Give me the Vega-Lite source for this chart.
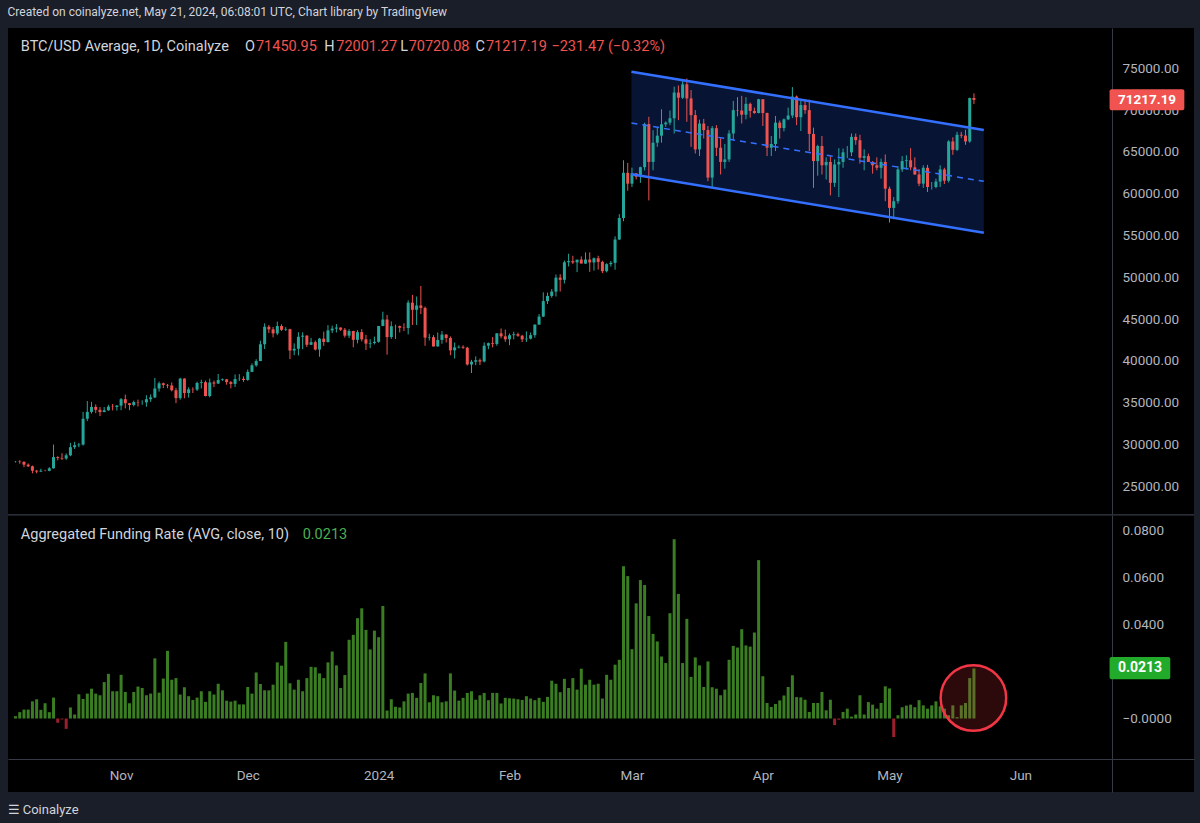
{
"$schema": "https://vega.github.io/schema/vega-lite/v6.json",
"background": "#1a1e28",
"padding": {"left": 7, "right": 7, "top": 6, "bottom": 9},
"spacing": 0,
"config": {"view": {"stroke": null}, "font": "Roboto"},
"title": {"text": "Created on coinalyze.net, May 21, 2024, 06:08:01 UTC, Chart library by TradingView", "anchor": "start", "fontSize": 12, "fontWeight": "normal", "color": "#d1d4dc", "offset": 9},
"datasets": {
"chan": [
{"d": "2024-02-29T21:00:00Z", "top": 74593, "bot": 62321, "mid": 68457},
{"d": "2024-05-23T08:00:00Z", "top": 67620, "bot": 55335, "mid": 61478}
],
"btc": [
{"d":"2023-10-07","o":27935,"h":28010,"l":27840,"c":27960,"f":0.0010},
{"d":"2023-10-08","o":27960,"h":28120,"l":27700,"c":27920,"f":0.0027},
{"d":"2023-10-09","o":27920,"h":27990,"l":27290,"c":27590,"f":0.0038},
{"d":"2023-10-10","o":27590,"h":27730,"l":27300,"c":27390,"f":0.0038},
{"d":"2023-10-11","o":27390,"h":27480,"l":26550,"c":26870,"f":0.0073},
{"d":"2023-10-12","o":26870,"h":26950,"l":26560,"c":26760,"f":0.0082},
{"d":"2023-10-13","o":26760,"h":27100,"l":26700,"c":26860,"f":0.0037},
{"d":"2023-10-14","o":26860,"h":26980,"l":26800,"c":26850,"f":0.0065},
{"d":"2023-10-15","o":26850,"h":27290,"l":26800,"c":27150,"f":0.0027},
{"d":"2023-10-16","o":27150,"h":30000,"l":27120,"c":28500,"f":0.0089},
{"d":"2023-10-17","o":28500,"h":28600,"l":28100,"c":28400,"f":-0.0018},
{"d":"2023-10-18","o":28400,"h":28960,"l":28150,"c":28320,"f":-0.0004},
{"d":"2023-10-19","o":28320,"h":28930,"l":28170,"c":28710,"f":-0.0044},
{"d":"2023-10-20","o":28710,"h":30200,"l":28600,"c":29680,"f":0.0047},
{"d":"2023-10-21","o":29680,"h":30320,"l":29460,"c":29910,"f":0.0017},
{"d":"2023-10-22","o":29910,"h":30200,"l":29670,"c":29990,"f":0.0103},
{"d":"2023-10-23","o":29990,"h":33900,"l":29880,"c":33080,"f":0.0083},
{"d":"2023-10-24","o":33080,"h":35200,"l":32800,"c":33900,"f":0.0106},
{"d":"2023-10-25","o":33900,"h":35100,"l":33700,"c":34500,"f":0.0127},
{"d":"2023-10-26","o":34500,"h":34800,"l":33750,"c":34150,"f":0.0106},
{"d":"2023-10-27","o":34150,"h":34480,"l":33400,"c":33890,"f":0.0099},
{"d":"2023-10-28","o":33890,"h":34480,"l":33860,"c":34090,"f":0.0155},
{"d":"2023-10-29","o":34090,"h":34750,"l":34040,"c":34530,"f":0.0190},
{"d":"2023-10-30","o":34530,"h":34850,"l":34080,"c":34490,"f":0.0116},
{"d":"2023-10-31","o":34490,"h":34720,"l":34060,"c":34650,"f":0.0116},
{"d":"2023-11-01","o":34650,"h":35560,"l":34100,"c":35420,"f":0.0186},
{"d":"2023-11-02","o":35420,"h":35970,"l":34320,"c":34940,"f":0.0113},
{"d":"2023-11-03","o":34940,"h":34950,"l":34100,"c":34730,"f":0.0065},
{"d":"2023-11-04","o":34730,"h":35250,"l":34560,"c":35080,"f":0.0113},
{"d":"2023-11-05","o":35080,"h":35370,"l":34550,"c":35040,"f":0.0136},
{"d":"2023-11-06","o":35040,"h":35280,"l":34750,"c":35040,"f":0.0130},
{"d":"2023-11-07","o":35040,"h":35890,"l":34520,"c":35420,"f":0.0099},
{"d":"2023-11-08","o":35420,"h":35990,"l":35100,"c":35630,"f":0.0106},
{"d":"2023-11-09","o":35630,"h":37950,"l":35550,"c":36700,"f":0.0256},
{"d":"2023-11-10","o":36700,"h":37530,"l":36330,"c":37320,"f":0.0110},
{"d":"2023-11-11","o":37320,"h":37400,"l":36750,"c":37130,"f":0.0170},
{"d":"2023-11-12","o":37130,"h":37240,"l":36740,"c":37060,"f":0.0288},
{"d":"2023-11-13","o":37060,"h":37430,"l":36350,"c":36490,"f":0.0165},
{"d":"2023-11-14","o":36490,"h":36770,"l":34950,"c":35550,"f":0.0172},
{"d":"2023-11-15","o":35550,"h":37980,"l":35360,"c":37880,"f":0.0102},
{"d":"2023-11-16","o":37880,"h":37930,"l":35530,"c":36160,"f":0.0133},
{"d":"2023-11-17","o":36160,"h":36850,"l":35600,"c":36600,"f":0.0095},
{"d":"2023-11-18","o":36600,"h":36830,"l":36160,"c":36570,"f":0.0079},
{"d":"2023-11-19","o":36570,"h":37520,"l":36400,"c":37360,"f":0.0089},
{"d":"2023-11-20","o":37360,"h":37750,"l":36700,"c":37450,"f":0.0116},
{"d":"2023-11-21","o":37450,"h":37650,"l":35750,"c":35800,"f":0.0071},
{"d":"2023-11-22","o":35800,"h":37880,"l":35650,"c":37420,"f":0.0116},
{"d":"2023-11-23","o":37420,"h":37650,"l":36870,"c":37290,"f":0.0102},
{"d":"2023-11-24","o":37290,"h":38430,"l":37250,"c":37720,"f":0.0148},
{"d":"2023-11-25","o":37720,"h":37900,"l":37600,"c":37800,"f":0.0120},
{"d":"2023-11-26","o":37800,"h":37830,"l":37150,"c":37460,"f":0.0076},
{"d":"2023-11-27","o":37460,"h":37590,"l":36720,"c":37250,"f":0.0072},
{"d":"2023-11-28","o":37250,"h":38380,"l":36880,"c":37830,"f":0.0076},
{"d":"2023-11-29","o":37830,"h":38420,"l":37600,"c":37860,"f":0.0060},
{"d":"2023-11-30","o":37860,"h":38150,"l":37500,"c":37720,"f":0.0060},
{"d":"2023-12-01","o":37720,"h":38970,"l":37620,"c":38690,"f":0.0134},
{"d":"2023-12-02","o":38690,"h":39700,"l":38650,"c":39470,"f":0.0106},
{"d":"2023-12-03","o":39470,"h":40200,"l":39300,"c":39980,"f":0.0196},
{"d":"2023-12-04","o":39980,"h":42420,"l":39980,"c":41990,"f":0.0147},
{"d":"2023-12-05","o":41990,"h":44490,"l":41420,"c":44080,"f":0.0120},
{"d":"2023-12-06","o":44080,"h":44300,"l":43330,"c":43770,"f":0.0120},
{"d":"2023-12-07","o":43770,"h":44050,"l":42820,"c":43290,"f":0.0144},
{"d":"2023-12-08","o":43290,"h":44700,"l":43080,"c":44170,"f":0.0239},
{"d":"2023-12-09","o":44170,"h":44370,"l":43580,"c":43720,"f":0.0225},
{"d":"2023-12-10","o":43720,"h":44040,"l":43590,"c":43790,"f":0.0326},
{"d":"2023-12-11","o":43790,"h":43850,"l":40220,"c":41240,"f":0.0150},
{"d":"2023-12-12","o":41240,"h":42100,"l":40680,"c":41450,"f":0.0123},
{"d":"2023-12-13","o":41450,"h":43430,"l":40650,"c":42890,"f":0.0165},
{"d":"2023-12-14","o":42890,"h":43420,"l":41400,"c":43020,"f":0.0116},
{"d":"2023-12-15","o":43020,"h":43080,"l":41660,"c":41930,"f":0.0172},
{"d":"2023-12-16","o":41930,"h":42760,"l":41900,"c":42240,"f":0.0220},
{"d":"2023-12-17","o":42240,"h":42430,"l":41250,"c":41360,"f":0.0218},
{"d":"2023-12-18","o":41360,"h":42750,"l":40500,"c":42660,"f":0.0192},
{"d":"2023-12-19","o":42660,"h":43500,"l":41800,"c":42260,"f":0.0172},
{"d":"2023-12-20","o":42260,"h":44280,"l":42200,"c":43650,"f":0.0239},
{"d":"2023-12-21","o":43650,"h":44220,"l":43330,"c":43860,"f":0.0285},
{"d":"2023-12-22","o":43860,"h":44400,"l":43400,"c":43990,"f":0.0226},
{"d":"2023-12-23","o":43990,"h":44000,"l":43580,"c":43730,"f":0.0130},
{"d":"2023-12-24","o":43730,"h":43940,"l":42800,"c":43020,"f":0.0185},
{"d":"2023-12-25","o":43020,"h":43800,"l":42730,"c":43580,"f":0.0335},
{"d":"2023-12-26","o":43580,"h":43600,"l":41630,"c":42520,"f":0.0356},
{"d":"2023-12-27","o":42520,"h":43680,"l":42100,"c":43440,"f":0.0427},
{"d":"2023-12-28","o":43440,"h":43800,"l":42320,"c":42580,"f":0.0469},
{"d":"2023-12-29","o":42580,"h":43120,"l":41300,"c":42070,"f":0.0377},
{"d":"2023-12-30","o":42070,"h":42600,"l":41520,"c":42140,"f":0.0294},
{"d":"2023-12-31","o":42140,"h":42900,"l":41970,"c":42280,"f":0.0374},
{"d":"2024-01-01","o":42280,"h":44180,"l":42180,"c":44180,"f":0.0346},
{"d":"2024-01-02","o":44180,"h":45880,"l":44150,"c":44950,"f":0.0479},
{"d":"2024-01-03","o":44950,"h":45500,"l":40750,"c":42850,"f":0.0034},
{"d":"2024-01-04","o":42850,"h":44730,"l":42630,"c":44150,"f":0.0082},
{"d":"2024-01-05","o":44150,"h":44340,"l":42620,"c":44160,"f":0.0050},
{"d":"2024-01-06","o":44160,"h":44230,"l":43400,"c":43970,"f":0.0047},
{"d":"2024-01-07","o":43970,"h":44500,"l":43570,"c":43930,"f":0.0073},
{"d":"2024-01-08","o":43930,"h":47250,"l":43180,"c":46970,"f":0.0106},
{"d":"2024-01-09","o":46970,"h":47900,"l":44300,"c":46110,"f":0.0109},
{"d":"2024-01-10","o":46110,"h":47700,"l":44300,"c":46630,"f":0.0088},
{"d":"2024-01-11","o":46630,"h":48970,"l":45600,"c":46340,"f":0.0151},
{"d":"2024-01-12","o":46340,"h":46500,"l":41800,"c":42780,"f":0.0192},
{"d":"2024-01-13","o":42780,"h":43250,"l":42440,"c":42840,"f":0.0069},
{"d":"2024-01-14","o":42840,"h":43080,"l":41720,"c":41730,"f":0.0099},
{"d":"2024-01-15","o":41730,"h":43400,"l":41720,"c":42510,"f":0.0095},
{"d":"2024-01-16","o":42510,"h":43570,"l":42050,"c":43150,"f":0.0069},
{"d":"2024-01-17","o":43150,"h":43200,"l":42200,"c":42740,"f":0.0073},
{"d":"2024-01-18","o":42740,"h":42930,"l":40680,"c":41260,"f":0.0192},
{"d":"2024-01-19","o":41260,"h":42200,"l":40280,"c":41610,"f":0.0119},
{"d":"2024-01-20","o":41610,"h":41870,"l":41500,"c":41680,"f":0.0076},
{"d":"2024-01-21","o":41680,"h":41870,"l":41440,"c":41580,"f":0.0088},
{"d":"2024-01-22","o":41580,"h":41680,"l":39450,"c":39570,"f":0.0109},
{"d":"2024-01-23","o":39570,"h":40130,"l":38550,"c":39900,"f":0.0116},
{"d":"2024-01-24","o":39900,"h":40540,"l":39490,"c":40080,"f":0.0080},
{"d":"2024-01-25","o":40080,"h":40280,"l":39510,"c":39930,"f":0.0099},
{"d":"2024-01-26","o":39930,"h":42210,"l":39830,"c":41820,"f":0.0109},
{"d":"2024-01-27","o":41820,"h":42200,"l":41400,"c":42120,"f":0.0078},
{"d":"2024-01-28","o":42120,"h":42840,"l":41620,"c":42030,"f":0.0109},
{"d":"2024-01-29","o":42030,"h":43300,"l":41820,"c":43300,"f":0.0109},
{"d":"2024-01-30","o":43300,"h":43880,"l":42690,"c":42940,"f":0.0064},
{"d":"2024-01-31","o":42940,"h":43750,"l":42280,"c":42580,"f":0.0088},
{"d":"2024-02-01","o":42580,"h":43290,"l":41880,"c":43080,"f":0.0086},
{"d":"2024-02-02","o":43080,"h":43490,"l":42580,"c":43190,"f":0.0085},
{"d":"2024-02-03","o":43190,"h":43380,"l":42880,"c":43010,"f":0.0082},
{"d":"2024-02-04","o":43010,"h":43120,"l":42260,"c":42580,"f":0.0079},
{"d":"2024-02-05","o":42580,"h":43530,"l":42260,"c":42660,"f":0.0095},
{"d":"2024-02-06","o":42660,"h":43400,"l":42570,"c":43080,"f":0.0085},
{"d":"2024-02-07","o":43080,"h":44370,"l":42780,"c":44340,"f":0.0078},
{"d":"2024-02-08","o":44340,"h":45600,"l":44330,"c":45300,"f":0.0088},
{"d":"2024-02-09","o":45300,"h":48200,"l":45250,"c":47150,"f":0.0071},
{"d":"2024-02-10","o":47150,"h":48170,"l":46800,"c":47770,"f":0.0092},
{"d":"2024-02-11","o":47770,"h":48590,"l":47560,"c":48290,"f":0.0161},
{"d":"2024-02-12","o":48290,"h":50330,"l":47700,"c":49960,"f":0.0148},
{"d":"2024-02-13","o":49960,"h":50370,"l":48300,"c":49700,"f":0.0112},
{"d":"2024-02-14","o":49700,"h":52000,"l":49260,"c":51800,"f":0.0169},
{"d":"2024-02-15","o":51800,"h":52820,"l":51300,"c":51930,"f":0.0130},
{"d":"2024-02-16","o":51930,"h":52570,"l":51600,"c":51780,"f":0.0172},
{"d":"2024-02-17","o":51780,"h":51980,"l":50620,"c":52120,"f":0.0123},
{"d":"2024-02-18","o":52120,"h":52500,"l":51700,"c":51640,"f":0.0212},
{"d":"2024-02-19","o":51640,"h":52980,"l":51600,"c":52120,"f":0.0144},
{"d":"2024-02-20","o":52120,"h":52980,"l":50650,"c":51780,"f":0.0165},
{"d":"2024-02-21","o":51780,"h":52370,"l":50800,"c":52280,"f":0.0144},
{"d":"2024-02-22","o":52280,"h":52580,"l":50920,"c":51840,"f":0.0148},
{"d":"2024-02-23","o":51840,"h":51990,"l":50500,"c":50730,"f":0.0085},
{"d":"2024-02-24","o":50730,"h":51680,"l":50590,"c":51570,"f":0.0186},
{"d":"2024-02-25","o":51570,"h":51950,"l":51280,"c":51730,"f":0.0165},
{"d":"2024-02-26","o":51730,"h":54900,"l":50900,"c":54520,"f":0.0229},
{"d":"2024-02-27","o":54520,"h":57550,"l":54450,"c":57090,"f":0.0250},
{"d":"2024-02-28","o":57090,"h":64000,"l":56700,"c":62500,"f":0.0648},
{"d":"2024-02-29","o":62500,"h":63680,"l":60360,"c":61200,"f":0.0606},
{"d":"2024-03-01","o":61200,"h":63120,"l":60800,"c":62440,"f":0.0295},
{"d":"2024-03-02","o":62440,"h":62440,"l":61700,"c":62030,"f":0.0490},
{"d":"2024-03-03","o":62030,"h":63230,"l":61300,"c":63170,"f":0.0589},
{"d":"2024-03-04","o":63170,"h":68500,"l":62780,"c":68330,"f":0.0568},
{"d":"2024-03-05","o":68330,"h":69200,"l":59200,"c":63800,"f":0.0436},
{"d":"2024-03-06","o":63800,"h":67600,"l":62800,"c":66100,"f":0.0360},
{"d":"2024-03-07","o":66100,"h":67900,"l":65600,"c":66940,"f":0.0328},
{"d":"2024-03-08","o":66940,"h":70100,"l":66100,"c":68300,"f":0.0264},
{"d":"2024-03-09","o":68300,"h":68650,"l":68000,"c":68500,"f":0.0236},
{"d":"2024-03-10","o":68500,"h":69950,"l":68200,"c":69020,"f":0.0448},
{"d":"2024-03-11","o":69020,"h":72800,"l":67200,"c":72100,"f":0.0763},
{"d":"2024-03-12","o":72100,"h":72950,"l":68800,"c":71480,"f":0.0530},
{"d":"2024-03-13","o":71480,"h":73650,"l":71330,"c":73080,"f":0.0236},
{"d":"2024-03-14","o":73080,"h":73780,"l":68600,"c":71400,"f":0.0424},
{"d":"2024-03-15","o":71400,"h":72400,"l":65600,"c":69400,"f":0.0177},
{"d":"2024-03-16","o":69400,"h":70000,"l":64800,"c":65300,"f":0.0260},
{"d":"2024-03-17","o":65300,"h":68850,"l":64500,"c":68390,"f":0.0226},
{"d":"2024-03-18","o":68390,"h":68950,"l":66600,"c":67610,"f":0.0134},
{"d":"2024-03-19","o":67610,"h":68100,"l":61500,"c":61930,"f":0.0243},
{"d":"2024-03-20","o":61930,"h":68100,"l":60800,"c":67840,"f":0.0133},
{"d":"2024-03-21","o":67840,"h":68200,"l":64500,"c":65500,"f":0.0127},
{"d":"2024-03-22","o":65500,"h":66650,"l":62300,"c":63800,"f":0.0099},
{"d":"2024-03-23","o":63800,"h":65950,"l":63000,"c":64100,"f":0.0123},
{"d":"2024-03-24","o":64100,"h":67600,"l":63800,"c":67200,"f":0.0250},
{"d":"2024-03-25","o":67200,"h":71100,"l":66400,"c":70000,"f":0.0309},
{"d":"2024-03-26","o":70000,"h":71550,"l":69250,"c":69950,"f":0.0302},
{"d":"2024-03-27","o":69950,"h":71700,"l":68400,"c":69450,"f":0.0380},
{"d":"2024-03-28","o":69450,"h":71550,"l":68900,"c":70750,"f":0.0311},
{"d":"2024-03-29","o":70750,"h":70900,"l":69100,"c":69900,"f":0.0306},
{"d":"2024-03-30","o":69900,"h":70300,"l":69550,"c":69650,"f":0.0366},
{"d":"2024-03-31","o":69650,"h":71350,"l":69600,"c":71300,"f":0.0674},
{"d":"2024-04-01","o":71300,"h":71300,"l":68100,"c":69650,"f":0.0180},
{"d":"2024-04-02","o":69650,"h":69700,"l":64500,"c":65500,"f":0.0066},
{"d":"2024-04-03","o":65500,"h":66900,"l":64500,"c":65950,"f":0.0049},
{"d":"2024-04-04","o":65950,"h":69300,"l":65100,"c":68500,"f":0.0062},
{"d":"2024-04-05","o":68500,"h":68750,"l":66600,"c":67850,"f":0.0077},
{"d":"2024-04-06","o":67850,"h":69000,"l":67450,"c":68900,"f":0.0098},
{"d":"2024-04-07","o":68900,"h":70300,"l":68800,"c":69350,"f":0.0134},
{"d":"2024-04-08","o":69350,"h":72750,"l":69050,"c":71620,"f":0.0184},
{"d":"2024-04-09","o":71620,"h":71750,"l":68200,"c":69150,"f":0.0091},
{"d":"2024-04-10","o":69150,"h":71150,"l":67500,"c":70600,"f":0.0090},
{"d":"2024-04-11","o":70600,"h":71300,"l":69550,"c":70000,"f":0.0080},
{"d":"2024-04-12","o":70000,"h":71250,"l":65100,"c":67150,"f":0.0028},
{"d":"2024-04-13","o":67150,"h":67900,"l":60700,"c":63900,"f":0.0066},
{"d":"2024-04-14","o":63900,"h":65850,"l":62150,"c":65700,"f":0.0066},
{"d":"2024-04-15","o":65700,"h":66900,"l":62300,"c":63400,"f":0.0113},
{"d":"2024-04-16","o":63400,"h":64350,"l":61700,"c":63800,"f":0.0035},
{"d":"2024-04-17","o":63800,"h":64450,"l":59800,"c":61300,"f":0.0080},
{"d":"2024-04-18","o":61300,"h":64100,"l":60800,"c":63500,"f":-0.0028},
{"d":"2024-04-19","o":63500,"h":65450,"l":59600,"c":63800,"f":-0.0005},
{"d":"2024-04-20","o":63800,"h":65400,"l":63100,"c":64950,"f":0.0028},
{"d":"2024-04-21","o":64950,"h":65700,"l":64250,"c":64950,"f":0.0042},
{"d":"2024-04-22","o":64950,"h":67200,"l":64500,"c":66800,"f":0.0008},
{"d":"2024-04-23","o":66800,"h":67200,"l":65850,"c":66400,"f":0.0017},
{"d":"2024-04-24","o":66400,"h":67050,"l":63600,"c":64300,"f":0.0099},
{"d":"2024-04-25","o":64300,"h":65300,"l":62800,"c":64500,"f":0.0017},
{"d":"2024-04-26","o":64500,"h":64800,"l":63800,"c":63800,"f":0.0070},
{"d":"2024-04-27","o":63800,"h":63900,"l":62400,"c":63400,"f":0.0059},
{"d":"2024-04-28","o":63400,"h":64350,"l":62800,"c":63100,"f":0.0042},
{"d":"2024-04-29","o":63100,"h":64200,"l":61800,"c":63800,"f":0.0066},
{"d":"2024-04-30","o":63800,"h":64700,"l":59100,"c":60600,"f":0.0137},
{"d":"2024-05-01","o":60600,"h":60850,"l":56550,"c":58300,"f":0.0128},
{"d":"2024-05-02","o":58300,"h":59600,"l":56950,"c":59100,"f":-0.0079},
{"d":"2024-05-03","o":59100,"h":63300,"l":58800,"c":62900,"f":0.0014},
{"d":"2024-05-04","o":62900,"h":64500,"l":62600,"c":63900,"f":0.0048},
{"d":"2024-05-05","o":63900,"h":64600,"l":62900,"c":64000,"f":0.0055},
{"d":"2024-05-06","o":64000,"h":65450,"l":62800,"c":63150,"f":0.0059},
{"d":"2024-05-07","o":63150,"h":64350,"l":62250,"c":62300,"f":0.0048},
{"d":"2024-05-08","o":62300,"h":62950,"l":60900,"c":61200,"f":0.0078},
{"d":"2024-05-09","o":61200,"h":63400,"l":60700,"c":63100,"f":0.0056},
{"d":"2024-05-10","o":63100,"h":63450,"l":60200,"c":60800,"f":0.0042},
{"d":"2024-05-11","o":60800,"h":61400,"l":60500,"c":60800,"f":0.0056},
{"d":"2024-05-12","o":60800,"h":61800,"l":60650,"c":61450,"f":0.0073},
{"d":"2024-05-13","o":61450,"h":63400,"l":60800,"c":62900,"f":0.0052},
{"d":"2024-05-14","o":62900,"h":63100,"l":61150,"c":61550,"f":0.0042},
{"d":"2024-05-15","o":61550,"h":66400,"l":61350,"c":66250,"f":0.0014},
{"d":"2024-05-16","o":66250,"h":66750,"l":64650,"c":65250,"f":0.0056},
{"d":"2024-05-17","o":65250,"h":67400,"l":65100,"c":67050,"f":0.0006},
{"d":"2024-05-18","o":67050,"h":67400,"l":66650,"c":66950,"f":0.0056},
{"d":"2024-05-19","o":66950,"h":67650,"l":65850,"c":66250,"f":0.0066},
{"d":"2024-05-20","o":66250,"h":71500,"l":66100,"c":71450,"f":0.0172},
{"d":"2024-05-21","o":71450.95,"h":72001.27,"l":70720.08,"c":71217.19,"f":0.0213}
]
},
"vconcat": [
{
"width": 1186,
"height": 486,
"view": {"fill": "#000000", "stroke": null},
"layer": [
{"data": {"name": "chan"}, "mark": {"type": "area", "color": "#2962ff", "opacity": 0.2},
 "encoding": {
  "x": {"field": "d", "type": "temporal", "axis": {"title": null, "labels": false, "ticks": false, "domain": false, "grid": false}, "scale": {"type": "utc", "domain": [{"year": 2023, "month": 10, "date": 6, "hours": 9, "minutes": 37, "utc": true}, {"year": 2024, "month": 7, "date": 10, "hours": 22, "minutes": 28, "utc": true}]}},
  "y": {"field": "top", "type": "quantitative", "scale": {"domain": [21687, 79821], "zero": false, "nice": false},
        "axis": {"orient": "right", "offset": -82, "title": null, "values": [25000, 30000, 35000, 40000, 45000, 50000, 55000, 60000, 65000, 70000, 75000], "format": ".2f", "grid": false, "ticks": false, "labelPadding": 10, "labelColor": "#b2b5be", "labelFontSize": 13.5, "domainColor": "#363a45"}},
  "y2": {"field": "bot"}
 }},
{"data": {"name": "btc"}, "mark": {"type": "rule", "strokeWidth": 1},
 "encoding": {
  "x": {"field": "d", "type": "temporal", "axis": {"title": null}},
  "y": {"field": "l", "type": "quantitative", "axis": {"title": null}},
  "y2": {"field": "h"},
  "color": {"condition": {"test": "datum.c >= datum.o", "value": "#26a69a"}, "value": "#ef5350"}
 }},
{"data": {"name": "btc"}, "mark": {"type": "bar", "size": 3},
 "encoding": {
  "x": {"field": "d", "type": "temporal", "axis": {"title": null}},
  "y": {"field": "o", "type": "quantitative", "axis": {"title": null}},
  "y2": {"field": "c"},
  "color": {"condition": {"test": "datum.c >= datum.o", "value": "#26a69a"}, "value": "#ef5350"}
 }},
{"data": {"name": "chan"}, "mark": {"type": "line", "color": "#3470ff", "strokeWidth": 2.5},
 "encoding": {"x": {"field": "d", "type": "temporal", "axis": {"title": null}}, "y": {"field": "top", "type": "quantitative", "axis": {"title": null}}}},
{"data": {"name": "chan"}, "mark": {"type": "line", "color": "#3470ff", "strokeWidth": 2.5},
 "encoding": {"x": {"field": "d", "type": "temporal", "axis": {"title": null}}, "y": {"field": "bot", "type": "quantitative", "axis": {"title": null}}}},
{"data": {"name": "chan"}, "mark": {"type": "line", "color": "#3470ff", "strokeWidth": 1.5, "strokeDash": [6, 5]},
 "encoding": {"x": {"field": "d", "type": "temporal", "axis": {"title": null}}, "y": {"field": "mid", "type": "quantitative", "axis": {"title": null}}}},
{"data": {"values": [{}]}, "mark": {"type": "rect", "color": "#f05350", "cornerRadius": 2},
 "encoding": {
  "x": {"datum": {"year": 2024, "month": 6, "date": 22, "hours": 3, "utc": true}, "type": "temporal", "axis": {"title": null}},
  "x2": {"datum": {"year": 2024, "month": 7, "date": 9, "hours": 20, "utc": true}},
  "y": {"datum": 72488, "type": "quantitative", "axis": {"title": null}},
  "y2": {"datum": 69976}
 }},
{"data": {"values": [{}]}, "mark": {"type": "text", "text": "71217.19", "color": "#ffffff", "fontWeight": "bold", "fontSize": 13.5, "align": "center", "baseline": "middle"},
 "encoding": {"x": {"datum": {"year": 2024, "month": 7, "date": 1, "utc": true}, "type": "temporal", "axis": {"title": null}}, "y": {"datum": 71217.19, "type": "quantitative", "axis": {"title": null}}}},
{"data": {"values": [{}]}, "mark": {"type": "text", "text": "BTC/USD Average, 1D, Coinalyze", "color": "#d1d4dc", "fontSize": 14.5, "align": "left", "baseline": "middle"},
 "encoding": {"x": {"datum": {"year": 2023, "month": 10, "date": 8, "hours": 6, "utc": true}, "type": "temporal", "axis": {"title": null}}, "y": {"datum": 77548, "type": "quantitative", "axis": {"title": null}}}},
{"data": {"values": [{}]}, "mark": {"type": "text", "text": "O", "color": "#d1d4dc", "fontSize": 14.5, "align": "left", "baseline": "middle"},
 "encoding": {"x": {"datum": {"year": 2023, "month": 11, "date": 30, "hours": 8, "minutes": 30, "utc": true}, "type": "temporal", "axis": {"title": null}}, "y": {"datum": 77548, "type": "quantitative", "axis": {"title": null}}}},
{"data": {"values": [{}]}, "mark": {"type": "text", "text": "71450.95", "color": "#f05350", "fontSize": 14.5, "align": "left", "baseline": "middle"},
 "encoding": {"x": {"datum": {"year": 2023, "month": 12, "date": 2, "hours": 22, "minutes": 35, "utc": true}, "type": "temporal", "axis": {"title": null}}, "y": {"datum": 77548, "type": "quantitative", "axis": {"title": null}}}},
{"data": {"values": [{}]}, "mark": {"type": "text", "text": "H", "color": "#d1d4dc", "fontSize": 14.5, "align": "left", "baseline": "middle"},
 "encoding": {"x": {"datum": {"year": 2023, "month": 12, "date": 19, "hours": 3, "minutes": 30, "utc": true}, "type": "temporal", "axis": {"title": null}}, "y": {"datum": 77548, "type": "quantitative", "axis": {"title": null}}}},
{"data": {"values": [{}]}, "mark": {"type": "text", "text": "72001.27", "color": "#f05350", "fontSize": 14.5, "align": "left", "baseline": "middle"},
 "encoding": {"x": {"datum": {"year": 2023, "month": 12, "date": 21, "hours": 23, "minutes": 5, "utc": true}, "type": "temporal", "axis": {"title": null}}, "y": {"datum": 77548, "type": "quantitative", "axis": {"title": null}}}},
{"data": {"values": [{}]}, "mark": {"type": "text", "text": "L", "color": "#d1d4dc", "fontSize": 14.5, "align": "left", "baseline": "middle"},
 "encoding": {"x": {"datum": {"year": 2024, "month": 1, "date": 6, "hours": 3, "utc": true}, "type": "temporal", "axis": {"title": null}}, "y": {"datum": 77548, "type": "quantitative", "axis": {"title": null}}}},
{"data": {"values": [{}]}, "mark": {"type": "text", "text": "70720.08", "color": "#f05350", "fontSize": 14.5, "align": "left", "baseline": "middle"},
 "encoding": {"x": {"datum": {"year": 2024, "month": 1, "date": 8, "hours": 2, "minutes": 35, "utc": true}, "type": "temporal", "axis": {"title": null}}, "y": {"datum": 77548, "type": "quantitative", "axis": {"title": null}}}},
{"data": {"values": [{}]}, "mark": {"type": "text", "text": "C", "color": "#d1d4dc", "fontSize": 14.5, "align": "left", "baseline": "middle"},
 "encoding": {"x": {"datum": {"year": 2024, "month": 1, "date": 23, "hours": 22, "utc": true}, "type": "temporal", "axis": {"title": null}}, "y": {"datum": 77548, "type": "quantitative", "axis": {"title": null}}}},
{"data": {"values": [{}]}, "mark": {"type": "text", "text": "71217.19", "color": "#f05350", "fontSize": 14.5, "align": "left", "baseline": "middle"},
 "encoding": {"x": {"datum": {"year": 2024, "month": 1, "date": 26, "hours": 10, "minutes": 10, "utc": true}, "type": "temporal", "axis": {"title": null}}, "y": {"datum": 77548, "type": "quantitative", "axis": {"title": null}}}},
{"data": {"values": [{}]}, "mark": {"type": "text", "text": "−231.47 (−0.32%)", "color": "#f05350", "fontSize": 14.5, "align": "left", "baseline": "middle"},
 "encoding": {"x": {"datum": {"year": 2024, "month": 2, "date": 10, "hours": 22, "minutes": 15, "utc": true}, "type": "temporal", "axis": {"title": null}}, "y": {"datum": 77548, "type": "quantitative", "axis": {"title": null}}}}
]
},
{
"width": 1186,
"height": 277,
"view": {"fill": "#000000", "stroke": null},
"title": {"text": "☰ Coinalyze", "orient": "bottom", "anchor": "start", "offset": 12, "fontSize": 13, "fontWeight": "normal", "color": "#d1d4dc"},
"layer": [
{"data": {"name": "btc"}, "mark": {"type": "bar", "size": 3},
 "encoding": {
  "x": {"field": "d", "type": "temporal",
        "scale": {"type": "utc", "domain": [{"year": 2023, "month": 10, "date": 6, "hours": 9, "minutes": 37, "utc": true}, {"year": 2024, "month": 7, "date": 10, "hours": 22, "minutes": 28, "utc": true}]},
        "axis": {"orient": "bottom", "offset": -33, "title": null, "grid": false, "ticks": false, "labelPadding": 9, "labelFontSize": 13.5, "labelColor": "#b2b5be", "domainColor": "#363a45",
                 "values": [{"year": 2023, "month": 11, "date": 1, "utc": true}, {"year": 2023, "month": 12, "date": 1, "utc": true}, {"year": 2024, "month": 1, "date": 1, "utc": true}, {"year": 2024, "month": 2, "date": 1, "utc": true}, {"year": 2024, "month": 3, "date": 1, "utc": true}, {"year": 2024, "month": 4, "date": 1, "utc": true}, {"year": 2024, "month": 5, "date": 1, "utc": true}, {"year": 2024, "month": 6, "date": 1, "utc": true}],
                 "labelExpr": "utcFormat(datum.value, '%m') == '01' ? utcFormat(datum.value, '%Y') : utcFormat(datum.value, '%b')"}},
  "y": {"field": "f", "type": "quantitative", "scale": {"domain": [-0.03127, 0.0866], "zero": false, "nice": false},
        "axis": {"orient": "right", "offset": -82, "title": null, "values": [0, 0.04, 0.06, 0.08], "labelExpr": "datum.value == 0 ? '−0.0000' : format(datum.value, '.4f')", "grid": false, "ticks": false, "labelPadding": 10, "labelColor": "#b2b5be", "labelFontSize": 13.5, "domainColor": "#363a45"}},
  "y2": {"datum": 0},
  "color": {"condition": {"test": "datum.f >= 0", "value": "#3a7d22"}, "value": "#9c1f2e"}
 }},
{"data": {"values": [{}]}, "mark": {"type": "rule", "color": "#363a45", "strokeWidth": 1},
 "encoding": {"y": {"datum": 0.0866, "type": "quantitative", "axis": {"title": null}}}},
{"data": {"values": [{}]}, "mark": {"type": "point", "shape": "circle", "size": 4301, "filled": true, "color": "#f23645", "fillOpacity": 0.18, "stroke": "#f23645", "strokeWidth": 2.5, "strokeOpacity": 1, "opacity": 1},
 "encoding": {"x": {"datum": {"year": 2024, "month": 5, "date": 20, "hours": 21, "utc": true}, "type": "temporal", "axis": {"title": null}}, "y": {"datum": 0.0087, "type": "quantitative", "axis": {"title": null}}}},
{"data": {"values": [{}]}, "mark": {"type": "rect", "color": "#22ab2a", "cornerRadius": 2},
 "encoding": {
  "x": {"datum": {"year": 2024, "month": 6, "date": 22, "hours": 3, "utc": true}, "type": "temporal", "axis": {"title": null}},
  "x2": {"datum": {"year": 2024, "month": 7, "date": 6, "hours": 12, "utc": true}},
  "y": {"datum": 0.02617, "type": "quantitative", "axis": {"title": null}},
  "y2": {"datum": 0.01668}
 }},
{"data": {"values": [{}]}, "mark": {"type": "text", "text": "0.0213", "color": "#ffffff", "fontWeight": "bold", "fontSize": 14, "align": "center", "baseline": "middle"},
 "encoding": {"x": {"datum": {"year": 2024, "month": 6, "date": 29, "hours": 8, "utc": true}, "type": "temporal", "axis": {"title": null}}, "y": {"datum": 0.0213, "type": "quantitative", "axis": {"title": null}}}},
{"data": {"values": [{}]}, "mark": {"type": "text", "text": "Aggregated Funding Rate (AVG, close, 10)", "color": "#d1d4dc", "fontSize": 14.5, "align": "left", "baseline": "middle"},
 "encoding": {"x": {"datum": {"year": 2023, "month": 10, "date": 8, "hours": 6, "utc": true}, "type": "temporal", "axis": {"title": null}}, "y": {"datum": 0.0781, "type": "quantitative", "axis": {"title": null}}}},
{"data": {"values": [{}]}, "mark": {"type": "text", "text": "0.0213", "color": "#4caf50", "fontSize": 14.5, "align": "left", "baseline": "middle"},
 "encoding": {"x": {"datum": {"year": 2023, "month": 12, "date": 14, "hours": 0, "utc": true}, "type": "temporal", "axis": {"title": null}}, "y": {"datum": 0.0781, "type": "quantitative", "axis": {"title": null}}}}
]
}
]
}
